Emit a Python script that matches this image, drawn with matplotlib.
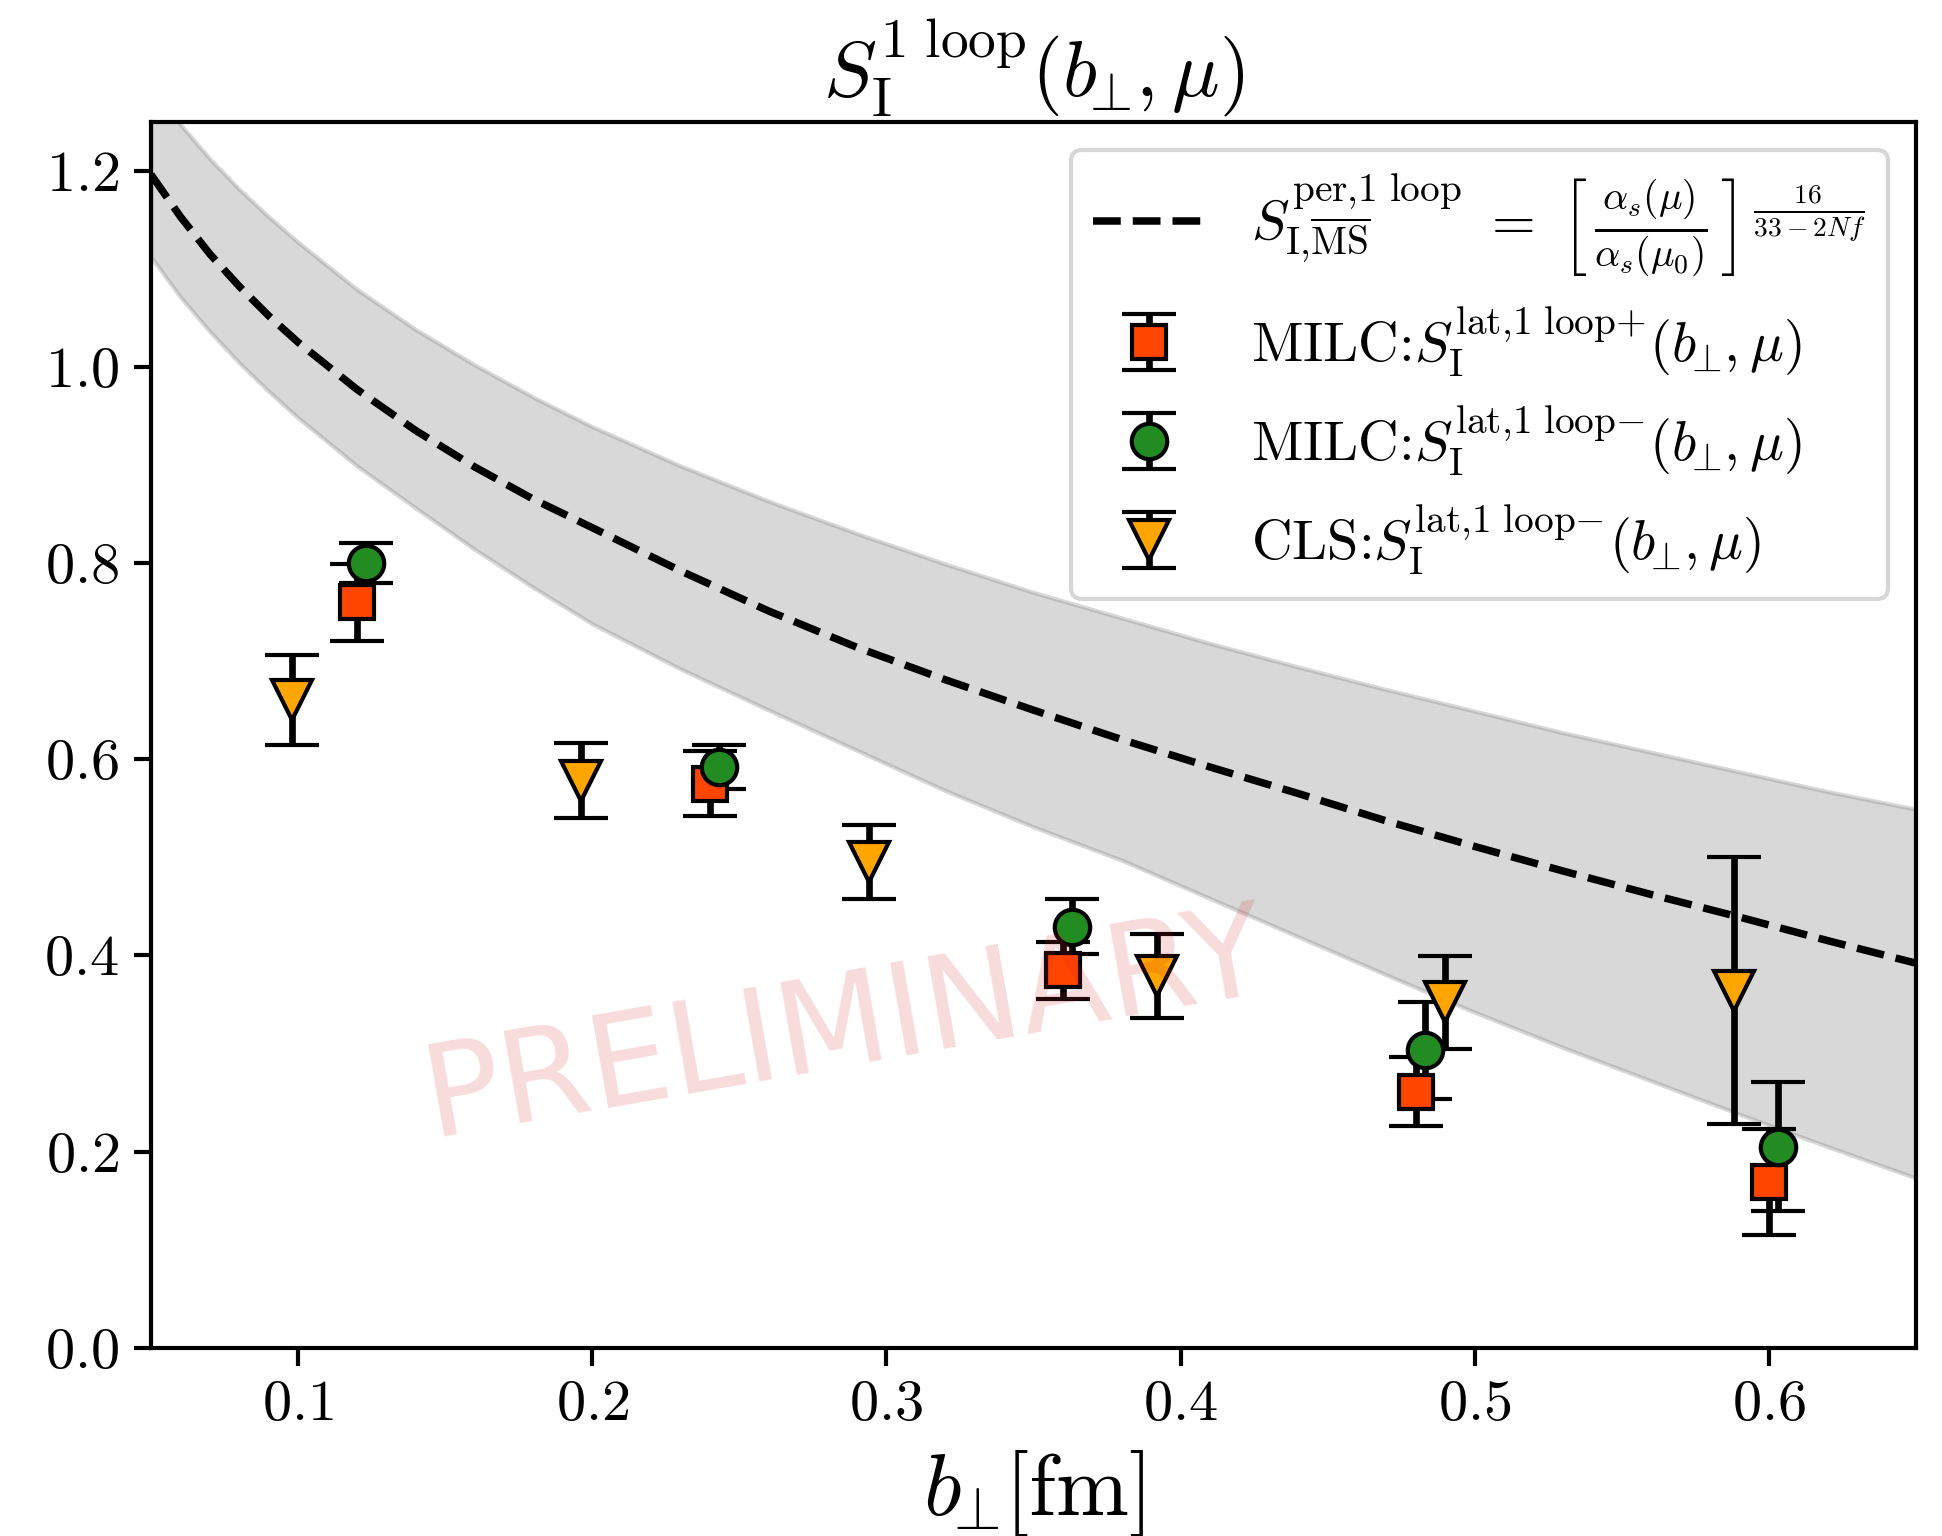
import numpy as np
import matplotlib
matplotlib.use("Agg")
import matplotlib.pyplot as plt

plt.rcParams['font.family'] = 'serif'
plt.rcParams['font.serif'] = ['cmr10']
plt.rcParams['mathtext.fontset'] = 'cm'
plt.rcParams['axes.formatter.use_mathtext'] = True
plt.rcParams['axes.unicode_minus'] = False

# perturbative curve and band
b_curve = [0.05, 0.06, 0.07, 0.08, 0.09, 0.10, 0.12, 0.14, 0.16, 0.18, 0.20,
           0.23, 0.26, 0.29, 0.32, 0.35, 0.38, 0.41, 0.44, 0.47, 0.50, 0.53,
           0.56, 0.59, 0.62, 0.65]
s_per = [1.196, 1.153, 1.115, 1.082, 1.052, 1.025, 0.977, 0.935, 0.898, 0.865,
         0.836, 0.792, 0.751, 0.714, 0.681, 0.650, 0.620, 0.592, 0.565, 0.537,
         0.511, 0.486, 0.462, 0.439, 0.415, 0.392]
s_up = [1.290, 1.247, 1.212, 1.181, 1.153, 1.127, 1.079, 1.038, 1.002, 0.969,
        0.939, 0.899, 0.863, 0.830, 0.799, 0.770, 0.744, 0.718, 0.694, 0.671,
        0.649, 0.627, 0.607, 0.587, 0.567, 0.549]
s_low = [1.112, 1.071, 1.036, 1.004, 0.975, 0.948, 0.899, 0.856, 0.814, 0.775,
         0.738, 0.692, 0.650, 0.609, 0.568, 0.531, 0.497, 0.458, 0.419, 0.380,
         0.342, 0.306, 0.272, 0.238, 0.205, 0.173]

# MILC lat 1 loop +
milc_p_b = [0.120, 0.240, 0.360, 0.480, 0.600]
milc_p_s = [0.760, 0.575, 0.385, 0.261, 0.169]
milc_p_e = [0.039, 0.033, 0.029, 0.035, 0.054]

# MILC lat 1 loop -
milc_m_b = [0.123, 0.243, 0.363, 0.483, 0.603]
milc_m_s = [0.800, 0.592, 0.429, 0.303, 0.205]
milc_m_e = [0.020, 0.022, 0.028, 0.049, 0.066]

# CLS lat 1 loop -
cls_b = [0.098, 0.196, 0.294, 0.392, 0.490, 0.588]
cls_s = [0.660, 0.578, 0.495, 0.379, 0.352, 0.364]
cls_e = [0.046, 0.038, 0.038, 0.043, 0.047, 0.136]

fig = plt.figure(figsize=(1942 / 300, 1536 / 300), dpi=300)
ax = fig.add_axes([0.0778, 0.1226, 0.9088, 0.7982])

bp = r'b_{\!\!\bot}\!'

ax.fill_between(b_curve, s_low, s_up, color='grey', alpha=0.3, lw=1.0, zorder=1)
ax.plot(b_curve, s_per, '--', color='k', lw=1.8, zorder=2,
        label=r'$S^{\rm per{,}1\ loop}_{\rm I{,}\overline{MS}}\ =\ '
              r'\left[\,\frac{\alpha_s(\mu)}{\alpha_s(\mu_0)}\,\right]'
              r'^{\,\frac{16}{33-2Nf}}$')

eb = dict(ls='none', ecolor='k', elinewidth=1.6, capsize=6.4, capthick=1.8,
          markeredgecolor='k', markeredgewidth=1.0, zorder=3)
ax.errorbar(milc_p_b, milc_p_s, yerr=milc_p_e, marker='s', ms=8,
            markerfacecolor='orangered',
            label=r'MILC:$S_{\rm I}^{\rm lat{,}1\ loop{+}}(' + bp + r', \mu)$', **eb)
ax.errorbar(milc_m_b, milc_m_s, yerr=milc_m_e, marker='o', ms=8.5,
            markerfacecolor='forestgreen',
            label=r'MILC:$S_{\rm I}^{\rm lat{,}1\ loop{-}}(' + bp + r', \mu)$', **eb)
ax.errorbar(cls_b, cls_s, yerr=cls_e, marker='v', ms=9.5,
            markerfacecolor='orange',
            label=r'CLS:$S_{\rm I}^{\rm lat{,}1\ loop{-}}(' + bp + r', \mu)$', **eb)

ax.text(0.286, 0.326, 'PRELIMINARY', family='DejaVu Sans', fontsize=31,
        color='tab:red', alpha=0.17, rotation=10, ha='center', va='center',
        zorder=5)

ax.set_xlim(0.05, 0.65)
ax.set_ylim(0, 1.25)
ax.set_xticks([0.1, 0.2, 0.3, 0.4, 0.5, 0.6])
ax.set_yticks([0.0, 0.2, 0.4, 0.6, 0.8, 1.0, 1.2])
ax.tick_params(labelsize=14, length=4.2, width=1.0)
for sp in ax.spines.values():
    sp.set_linewidth(1.0)

ax.set_title(r'$S_{\rm I}^{\rm 1\ loop}(' + bp + r', \mu)$', fontsize=19)
ax.set_xlabel(r'$' + bp + r'[\rm fm]$', fontsize=21)
ax.legend(loc='upper right', fontsize=13.5, labelspacing=0.45)

fig.savefig('out.png', dpi=300)
